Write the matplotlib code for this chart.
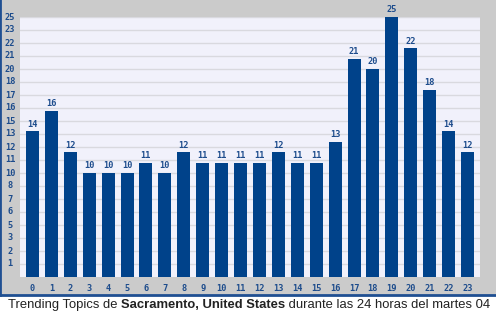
import numpy as np
import matplotlib.pyplot as plt
import matplotlib.transforms as mtransforms

# hourly trending topic counts
hours = [str(h) for h in range(24)]
counts = [14, 16, 12, 10, 10, 10, 11, 10, 12, 11, 11, 11,
          11, 12, 11, 11, 13, 21, 20, 25, 22, 18, 14, 12]
y_max = 25
n_grid = 20

caption_parts = [('Trending Topics de ', 'normal'),
                 ('Sacramento, United States', 'bold'),
                 (' durante las 24 horas del martes 04', 'normal')]

bar_color = '#00428a'
text_color = '#1d4c8c'
panel_bg = '#cbcbcb'
plot_bg = '#f1f1fb'
mono = 'DejaVu Sans Mono'

fig = plt.figure(figsize=(4.96, 3.32), dpi=100)
fig.patch.set_facecolor('white')

# grey panel behind the chart, with blue left and bottom borders
panel = fig.add_axes([0, 37 / 332, 1, 295 / 332])
panel.set_facecolor(panel_bg)
panel.set_xticks([])
panel.set_yticks([])
for side in ['top', 'right']:
    panel.spines[side].set_visible(False)
for side in ['left', 'bottom']:
    panel.spines[side].set_color('#1f4f92')
    panel.spines[side].set_linewidth(2)

ax = fig.add_axes([20 / 496, 55 / 332, 460 / 496, 260 / 332])
ax.set_facecolor(plot_bg)
x = np.arange(len(hours))
ax.bar(x, counts, width=0.69, color=bar_color, zorder=3)
for xi, c in zip(x, counts):
    ax.text(xi, c + 0.25, str(c), ha='center', va='bottom', fontsize=6.2,
            color=text_color, family=mono, fontweight='bold')

ax.set_xlim(-0.66, len(hours) - 0.34)
ax.set_ylim(0, y_max)
ticks = np.linspace(0, y_max, n_grid + 1)[1:]
ax.set_yticks(ticks)
ax.set_yticklabels([])
# y labels are centred in the strip left of the plot
ytrans = mtransforms.blended_transform_factory(fig.transFigure, ax.transData)
for t in ticks:
    ax.text(10 / 496, t, str(int(t)), transform=ytrans, ha='center', va='center',
            fontsize=6.2, color=text_color, family=mono, fontweight='bold')
ax.set_xticks(x)
ax.set_xticklabels(hours)
ax.tick_params(length=0, labelsize=6.2, labelcolor=text_color)
ax.tick_params(axis='x', pad=5)
for lbl in ax.get_xticklabels():
    lbl.set_family(mono)
    lbl.set_fontweight('bold')
ax.grid(axis='y', color='#d9d9df', linewidth=1, zorder=0)
for s in ax.spines.values():
    s.set_visible(False)

# caption built from normal and bold pieces laid side by side
renderer = fig.canvas.get_renderer()
cx = 8
for txt, weight in caption_parts:
    t = fig.text(cx / 496, 1 - 305 / 332, txt, ha='left', va='center',
                 fontsize=9.4, color='#222222', family='Liberation Sans',
                 fontweight=weight)
    cx += t.get_window_extent(renderer).width

fig.savefig('out.png', dpi=100)
